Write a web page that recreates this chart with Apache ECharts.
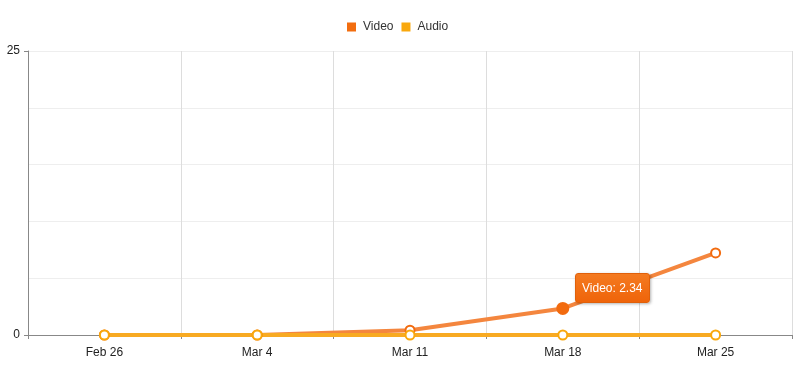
<!DOCTYPE html>
<html><head><meta charset="utf-8">
<script src="https://cdn.jsdelivr.net/npm/echarts@6/dist/echarts.min.js"></script>
<style>html,body{margin:0;padding:0;background:#fff}#c{width:810px;height:367px}</style>
</head><body><div id="c"></div>
<script>
const categories = ['Feb 26', 'Mar 4', 'Mar 11', 'Mar 18', 'Mar 25'];
const videoValues = [0, 0, 0.42, 2.34, 7.22];
const audioValues = [0, 0, 0, 0, 0];
const yTickLabels = ['0', '25'];
const highlightIndex = 3;

const chart = echarts.init(document.getElementById('c'));
const font = '"Liberation Sans", Arial, sans-serif';
const videoData = videoValues.map((v, i) => i === highlightIndex
  ? { value: v, symbol: 'circle', symbolSize: 11, itemStyle: { color: '#f26b0f', borderColor: '#f26b0f' } }
  : v);

chart.setOption({
  animation: false,
  textStyle: { fontFamily: font },
  legend: {
    top: 16, left: 342, itemWidth: 9, itemHeight: 9, itemGap: 8,
    icon: 'rect',
    textStyle: { fontSize: 12, color: '#333', fontFamily: font, padding: [0, 0, 0, 2] },
    data: [
      { name: 'Video', itemStyle: { color: '#f26d0f', borderWidth: 0 } },
      { name: 'Audio', itemStyle: { color: '#f9a80d', borderWidth: 0 } }
    ]
  },
  tooltip: {
    trigger: 'item',
    alwaysShowContent: true,
    backgroundColor: '#f26b0f',
    borderColor: '#e0600a',
    borderWidth: 1,
    padding: [5, 6],
    textStyle: { color: '#fff', fontSize: 12, fontFamily: font },
    extraCssText: 'border-radius:3px;box-shadow:1px 1px 3px rgba(0,0,0,0.3);background:linear-gradient(#f47a20,#ef640a);',
    position: function () { return [575, 273]; },
    formatter: p => p.seriesName + ': ' + p.value
  },
  grid: { left: 28, right: 18, top: 51, bottom: 32, containLabel: false },
  xAxis: {
    type: 'category', data: categories, boundaryGap: true,
    axisLine: { lineStyle: { color: '#888', width: 1 } },
    axisTick: { show: true, length: 4, lineStyle: { color: '#888' } },
    axisLabel: { color: '#222', fontSize: 12, margin: 12, fontFamily: font },
    splitLine: { show: true, lineStyle: { color: '#ddd', width: 1 } }
  },
  yAxis: [
    {
      type: 'value', min: 0, max: 25, interval: 5,
      axisLine: { show: false },
      axisTick: { show: false },
      axisLabel: { show: false },
      splitLine: { show: true, lineStyle: { color: '#eee', width: 1 } }
    },
    {
      type: 'value', min: 0, max: 25, interval: 25, position: 'left',
      axisLine: { show: true, lineStyle: { color: '#888', width: 1 } },
      axisTick: { show: true, length: 4, lineStyle: { color: '#888' } },
      axisLabel: { color: '#222', fontSize: 12, margin: 8, fontFamily: font,
        verticalAlign: 'middle', padding: [6, 0, 0, 0],
        formatter: v => yTickLabels.includes(String(v)) ? String(v) : '' },
      splitLine: { show: false }
    }
  ],
  series: [
    {
      name: 'Video', type: 'line', data: videoData,
      symbol: 'emptyCircle', symbolSize: 9, showAllSymbol: true,
      lineStyle: { color: '#f4863e', width: 4 },
      itemStyle: { color: '#f26b0f', borderColor: '#f26b0f', borderWidth: 2 },
      emphasis: { disabled: true }
    },
    {
      name: 'Audio', type: 'line', data: audioValues,
      symbol: 'emptyCircle', symbolSize: 9, showAllSymbol: true,
      lineStyle: { color: '#f8aa22', width: 4 },
      itemStyle: { color: '#f9a80d', borderColor: '#f9a80d', borderWidth: 2 },
      emphasis: { disabled: true }
    }
  ]
});
chart.dispatchAction({ type: 'showTip', seriesIndex: 0, dataIndex: highlightIndex });
</script></body></html>
